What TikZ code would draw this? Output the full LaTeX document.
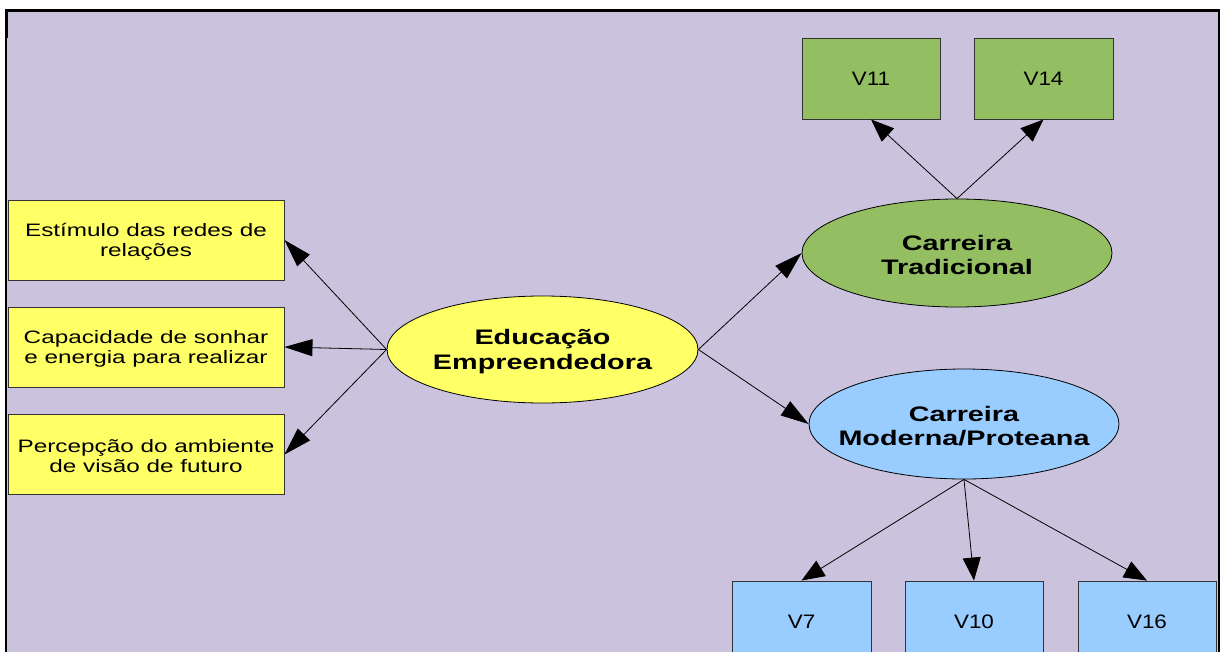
\documentclass[tikz,border=0pt]{standalone}
\usepackage{fontspec}
\usetikzlibrary{arrows.meta,shapes.geometric}
\newfontfamily\widefont{Liberation Sans}[FakeStretch=1.35]
\newfontfamily\wideboldfont{Liberation Sans Bold}[FakeStretch=1.37]
\newfontfamily\vfont{Liberation Sans}[FakeStretch=1.15]
\definecolor{bgpurple}{RGB}{203,195,221}
\definecolor{yfill}{RGB}{255,255,102}
\definecolor{gfill}{RGB}{147,190,98}
\definecolor{bfill}{RGB}{153,204,255}
\definecolor{edge}{RGB}{51,51,51}
\tikzset{
  ybox/.style={draw=edge, line width=0.9pt, fill=yfill, rectangle, inner sep=0pt,
    minimum width=276pt, minimum height=80pt},
  yboxtext/.style={inner sep=0pt, align=center, yshift=-2pt,
    font=\widefont\fontsize{18}{20}\selectfont},
  vbox/.style={draw=edge, line width=0.9pt, rectangle, inner sep=0pt,
    minimum width=138pt, minimum height=81pt,
    font=\vfont\fontsize{19.5}{22}\selectfont},
  latent/.style={draw=black, line width=0.8pt, ellipse, inner sep=0pt,
    minimum width=311pt, minimum height=107pt},
  latenttext/.style={inner sep=0pt, align=center, yshift=-2pt,
    font=\wideboldfont\fontsize{21}{24.5}\selectfont},
  arrh/.style={draw=black, line width=0.8pt, -{Triangle[length=28pt,width=17pt]}},
  arrv/.style={draw=black, line width=0.8pt, -{Triangle[length=23pt,width=18pt]}},
}
\begin{document}
\begin{tikzpicture}[x=1pt,y=-1pt]
\useasboundingbox (0,0) rectangle (1221,651);
\clip (0,0) rectangle (1221,651);
\fill[white] (0,0) rectangle (1221,651);
\fill[bgpurple] (6,10.5) rectangle (1218.6,660);
\draw[line width=2.2pt] (6,660) -- (6,10.5) -- (1218.6,10.5) -- (1218.6,660);
\fill[black] (5,10) rectangle (8.3,38);

% left yellow boxes
\node[ybox] (b1) at (146,240) {};
\node[yboxtext] (b1t) at (b1.center) {Estímulo das redes de\\relações};
\node[ybox] (b2) at (146,347) {};
\node[yboxtext] (b2t) at (b2.center) {Capacidade de sonhar\\e energia para realizar};
\node[ybox] (b3) at (146,454.5) {};
\node[yboxtext] (b3t) at (b3.center) {Percepção do ambiente\\de visão de futuro};

% ellipses
\node[latent, fill=yfill] (edu) at (542.5,349.5) {};
\node[latenttext] (edut) at (edu.center) {Educação\\Empreendedora};
\node[latent, fill=gfill, minimum width=310pt, minimum height=108pt] (trad) at (957,253) {};
\node[latenttext] (tradt) at (trad.center) {Carreira\\Tradicional};
\node[latent, fill=bfill, minimum width=310pt, minimum height=110pt] (mod) at (964,424) {};
\node[latenttext] (modt) at (mod.center) {Carreira\\Moderna/Proteana};

% indicator boxes
\node[vbox, fill=gfill] (v11) at (871,78.5) {V11};
\node[vbox, fill=gfill, minimum width=139pt] (v14) at (1043.5,78.5) {V14};
\node[vbox, fill=bfill, minimum width=139pt] (v7) at (801.5,621.5) {V7};
\node[vbox, fill=bfill] (v10) at (974,621.5) {V10};
\node[vbox, fill=bfill] (v16) at (1147,621.5) {V16};

% connectors
\draw[arrh] (edu.west) -- (b1.east);
\draw[arrh] (edu.west) -- (b2.east);
\draw[arrh] (edu.west) -- (b3.east);
\draw[arrh] (edu.east) -- (trad.west);
\draw[arrh] (edu.east) -- (mod.west);
\draw[arrv] (trad.north) -- (v11.south);
\draw[arrv] (trad.north) -- (v14.south);
\draw[arrv] (mod.south) -- (v7.north);
\draw[arrv] (mod.south) -- (v10.north);
\draw[arrv] (mod.south) -- (v16.north);
\end{tikzpicture}
\end{document}
